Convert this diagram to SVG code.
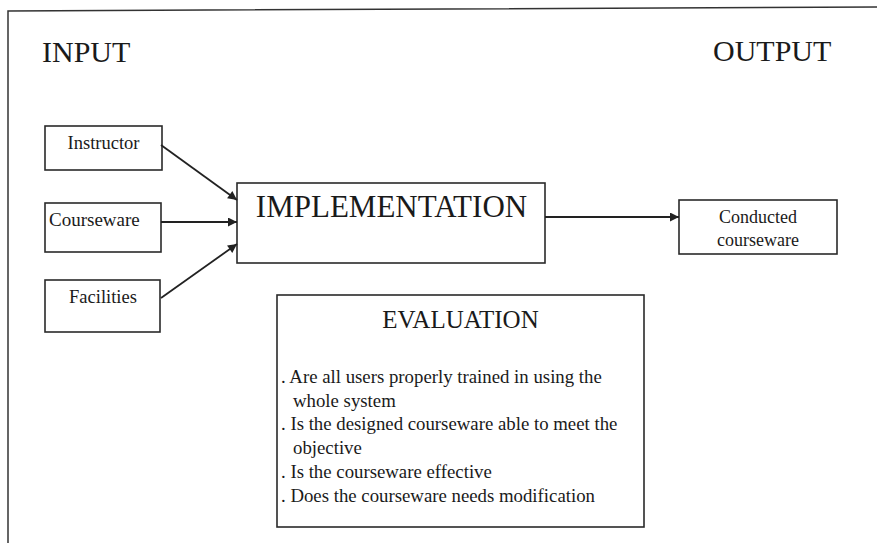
<svg xmlns="http://www.w3.org/2000/svg" width="877" height="543" viewBox="0 0 877 543">
<defs>
<style>
.box{fill:#fff;stroke:#2a2a2a;stroke-width:1.6}
.t{fill:#1a1a1a}
.conn{stroke:#222;stroke-width:1.8;fill:none}
</style>
<marker id="ah" viewBox="0 0 10 10" refX="10" refY="5" markerWidth="10" markerHeight="9" markerUnits="userSpaceOnUse" orient="auto">
<path d="M0,0 L10,5 L0,10 z" fill="#222"/>
</marker>
</defs>
<rect width="877" height="543" fill="#fff"/>
<path d="M8,543 L8,11 L877,7" fill="none" stroke="#333" stroke-width="1.5"/>
<g font-family="'Liberation Serif', 'DejaVu Serif', serif">
<text class="t" x="42" y="62" font-size="30">INPUT</text>
<text class="t" x="713" y="61" font-size="30">OUTPUT</text>
<g id="instructor">
<rect class="box" x="45" y="126" width="117" height="44"/>
<text class="t" x="103.5" y="149" font-size="18.5" text-anchor="middle">Instructor</text>
</g>
<g id="courseware">
<rect class="box" x="45" y="203" width="116" height="49"/>
<text class="t" x="49" y="226" font-size="19">Courseware</text>
</g>
<g id="facilities">
<rect class="box" x="45" y="280" width="115" height="52"/>
<text class="t" x="103" y="303" font-size="18.5" text-anchor="middle">Facilities</text>
</g>
<g id="implementation">
<rect class="box" x="237" y="183" width="308" height="80"/>
<text class="t" x="391.5" y="217" font-size="31" text-anchor="middle">IMPLEMENTATION</text>
</g>
<g id="conducted">
<rect class="box" x="679" y="200" width="158" height="54"/>
<text class="t" x="758" y="223" font-size="18" text-anchor="middle">Conducted</text>
<text class="t" x="758" y="246" font-size="18" text-anchor="middle">courseware</text>
</g>
<g id="evaluation">
<rect class="box" x="277" y="295" width="367" height="232"/>
<text class="t" x="460.5" y="328" font-size="25" text-anchor="middle">EVALUATION</text>
<g class="t" font-size="18.8">
<text x="281" y="383">. Are all users properly trained in using the</text>
<text x="293" y="406.7">whole system</text>
<text x="281" y="430.4">. Is the designed courseware able to meet the</text>
<text x="293" y="454.1">objective</text>
<text x="281" y="477.8">. Is the courseware effective</text>
<text x="281" y="501.5">. Does the courseware needs modification</text>
</g>
</g>
</g>
<g id="connectors">
<line class="conn" x1="161" y1="145" x2="237" y2="200" marker-end="url(#ah)"/>
<line class="conn" x1="161" y1="222" x2="237" y2="222" marker-end="url(#ah)"/>
<line class="conn" x1="161" y1="298" x2="237" y2="244" marker-end="url(#ah)"/>
<line class="conn" x1="545" y1="217" x2="679" y2="217" marker-end="url(#ah)"/>
</g>
</svg>
